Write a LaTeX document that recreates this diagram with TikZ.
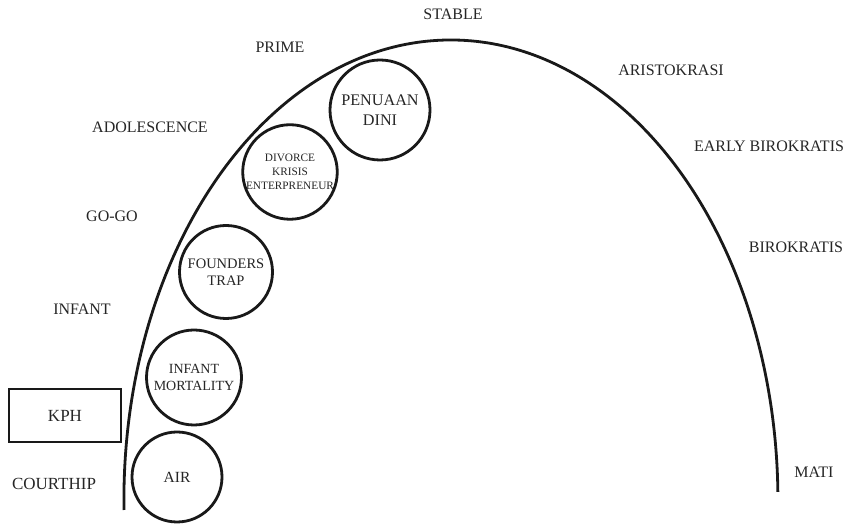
\documentclass[tikz,border=0pt]{standalone}
\usepackage{fontspec}
\setmainfont{Liberation Serif}
\begin{document}
\begin{tikzpicture}[x=1pt,y=1pt,
  lbl/.style={text=black!85, font=\fontsize{16}{18}\selectfont, inner sep=0pt},
  stage/.style={draw=black!90, line width=2.8pt, circle, inner sep=0pt, align=center, text=black!85},
  curve/.style={draw=black!90, line width=2.8pt}]
\useasboundingbox[fill=white] (0,0) rectangle (849,524);
% life-cycle curve
\coordinate (start) at (124,14);
\draw[curve] (start) arc[start angle=181.25, end angle=1, x radius=327, y radius=460] coordinate (end);
% labels
\node[lbl] (stable) at (453,510) {STABLE};
\node[lbl] (prime) at (280,477) {PRIME};
\node[lbl] (adol) at (150,397) {ADOLESCENCE};
\node[lbl] (gogo) at (112,308) {GO-GO};
\node[lbl] (infant) at (82,215) {INFANT};
\node[lbl, font=\fontsize{17}{18}\selectfont] (court) at (54,40) {COURTHIP};
\node[lbl] (aristo) at (671,454) {ARISTOKRASI};
\node[lbl] (early) at (769,378) {EARLY BIROKRATIS};
\node[lbl] (biro) at (796,277) {BIROKRATIS};
\node[lbl] (mati) at (814,52) {MATI};
\node[draw=black!90, line width=2.6pt, minimum width=112pt, minimum height=53pt, inner sep=0pt,
      text=black!85, font=\fontsize{17}{18}\selectfont] (kph) at (65,108.5) {KPH};
% circles
\node[stage, minimum size=90pt, font=\fontsize{15.5}{17}\selectfont] (air) at (177,47) {AIR};
\node[stage, minimum size=95pt, font=\fontsize{14}{17}\selectfont] (mort) at (194,146.5) {INFANT\\MORTALITY};
\node[stage, minimum size=93pt, font=\fontsize{14.5}{16.5}\selectfont] (found) at (226,252) {FOUNDERS\\TRAP};
\node[stage, minimum size=94pt, font=\fontsize{11.3}{14}\selectfont] (div) at (290,352) {DIVORCE\\KRISIS\\ENTERPRENEUR};
\node[stage, minimum size=100pt, font=\fontsize{16.2}{20}\selectfont] (penu) at (380,414) {PENUAAN\\DINI};
\end{tikzpicture}
\end{document}
